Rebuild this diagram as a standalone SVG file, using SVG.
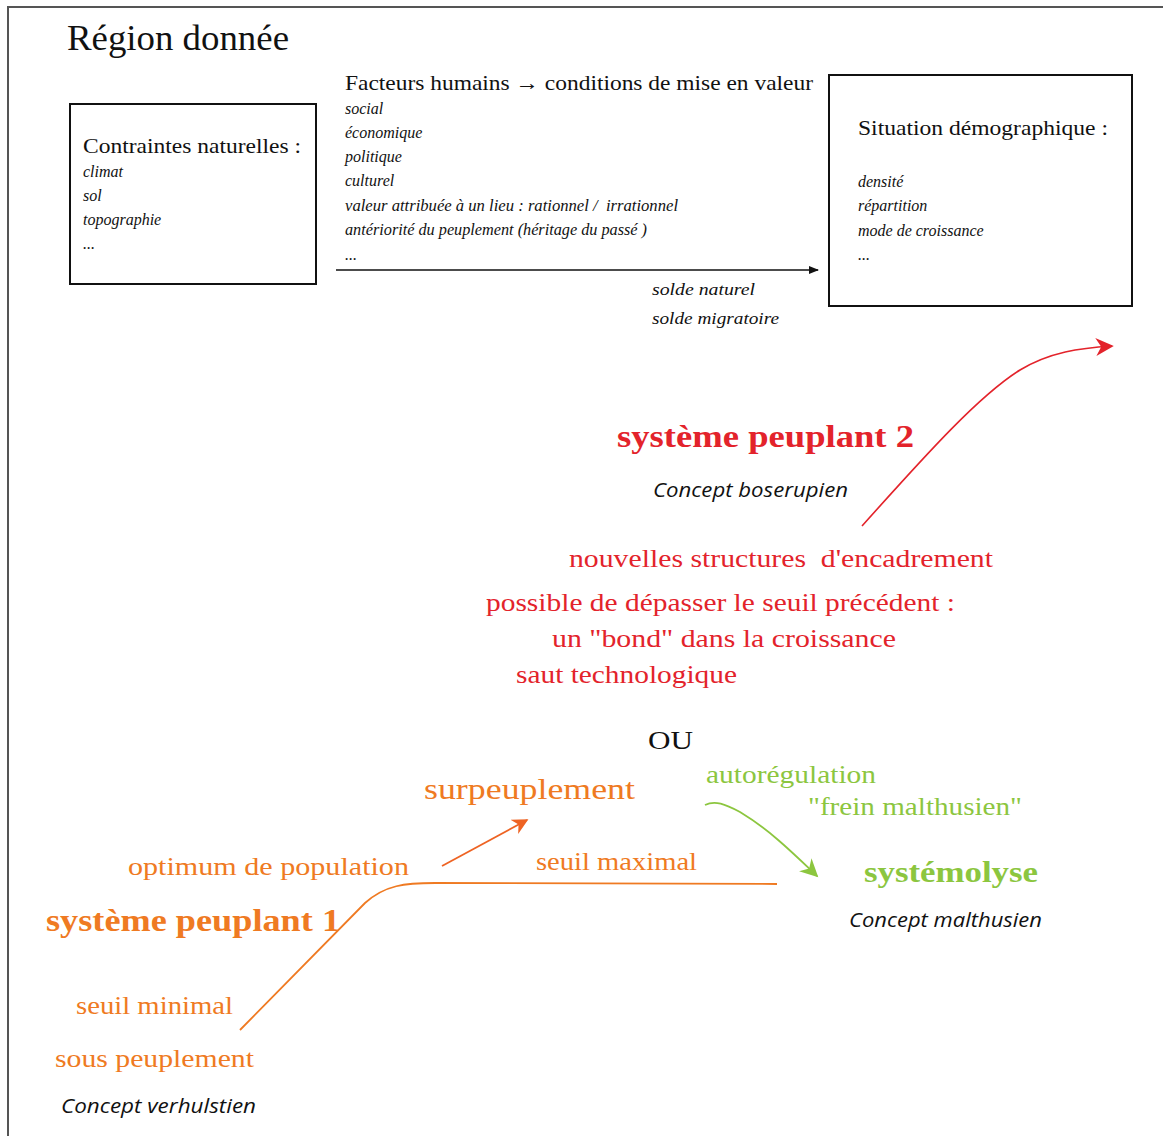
<svg xmlns="http://www.w3.org/2000/svg" width="1163" height="1136" viewBox="0 0 1163 1136">
<defs>
<style>
.s{font-family:"Liberation Serif","DejaVu Serif",serif;}
.i{font-family:"Liberation Serif","DejaVu Serif",serif;font-style:italic;font-size:16px;fill:#111;}
.c{font-family:"Open Sans","Noto Sans","DejaVu Sans",sans-serif;font-style:italic;font-size:20px;fill:#111;}
.box{fill:#fff;stroke:#111;stroke-width:2;}
.red{fill:#e3232b;}
.ora{fill:#ef7a22;}
.grn{fill:#8cc63f;}
</style>
<marker id="ab" viewBox="0 0 10 10" refX="9" refY="5" markerWidth="10" markerHeight="10" markerUnits="userSpaceOnUse" orient="auto"><path d="M0,1 L10,5 L0,9 Z" fill="#111"/></marker>
<marker id="ar" viewBox="0 0 10 10" refX="9" refY="5" markerWidth="20" markerHeight="18" markerUnits="userSpaceOnUse" orient="auto"><path d="M0,0 L10,5 L0,10 L3,5 Z" fill="#e3232b"/></marker>
<marker id="ao" viewBox="0 0 10 10" refX="9" refY="5" markerWidth="18" markerHeight="16" markerUnits="userSpaceOnUse" orient="auto"><path d="M0,0 L10,5 L0,10 L3,5 Z" fill="#ee6323"/></marker>
<marker id="ag" viewBox="0 0 10 10" refX="9" refY="5" markerWidth="20" markerHeight="18" markerUnits="userSpaceOnUse" orient="auto"><path d="M0,0 L10,5 L0,10 L3,5 Z" fill="#8cc63f"/></marker>
</defs>
<rect width="1163" height="1136" fill="#fff"/>
<path d="M8,1136 V7 H1163" fill="none" stroke="#555" stroke-width="2"/>

<g id="title"><text class="s" x="67" y="50" font-size="35" fill="#111" textLength="222" lengthAdjust="spacingAndGlyphs">Région donnée</text></g>

<g id="contraintes">
<rect class="box" x="70" y="104" width="246" height="180"/>
<text class="s" x="83" y="153" font-size="21" fill="#111" textLength="218" lengthAdjust="spacingAndGlyphs">Contraintes naturelles :</text>
<text class="i" x="83" y="177">climat</text>
<text class="i" x="83" y="201">sol</text>
<text class="i" x="83" y="225">topographie</text>
<text class="i" x="83" y="249">...</text>
</g>

<g id="facteurs">
<text class="s" x="345" y="90" font-size="21" fill="#111" textLength="468" lengthAdjust="spacingAndGlyphs">Facteurs humains → conditions de mise en valeur</text>
<text class="i" x="345" y="114">social</text>
<text class="i" x="345" y="138">économique</text>
<text class="i" x="345" y="162">politique</text>
<text class="i" x="345" y="186">culturel</text>
<text class="i" x="345" y="211" textLength="333" lengthAdjust="spacingAndGlyphs">valeur attribuée à un lieu : rationnel / &#160;irrationnel</text>
<text class="i" x="345" y="235" textLength="302" lengthAdjust="spacingAndGlyphs">antériorité du peuplement (héritage du passé )</text>
<text class="i" x="345" y="260">...</text>
<text class="i" x="652" y="295" font-size="20" textLength="103" lengthAdjust="spacingAndGlyphs">solde naturel</text>
<text class="i" x="652" y="324" font-size="20" textLength="127" lengthAdjust="spacingAndGlyphs">solde migratoire</text>
</g>

<g id="situation">
<rect class="box" x="829" y="75" width="303" height="231"/>
<text class="s" x="858" y="135" font-size="21" fill="#111" textLength="250" lengthAdjust="spacingAndGlyphs">Situation démographique :</text>
<text class="i" x="858" y="187">densité</text>
<text class="i" x="858" y="211">répartition</text>
<text class="i" x="858" y="236">mode de croissance</text>
<text class="i" x="858" y="260">...</text>
</g>

<g id="systeme2">
<text class="s red" x="617" y="447" font-size="31" font-weight="bold" textLength="297" lengthAdjust="spacingAndGlyphs">système peuplant 2</text>
<text class="c" x="653" y="497" textLength="195" lengthAdjust="spacingAndGlyphs">Concept boserupien</text>
<text class="s red" x="569" y="567" font-size="25" textLength="424" lengthAdjust="spacingAndGlyphs">nouvelles structures &#160;d'encadrement</text>
<text class="s red" x="486" y="611" font-size="25" textLength="469" lengthAdjust="spacingAndGlyphs">possible de dépasser le seuil précédent :</text>
<text class="s red" x="552" y="647" font-size="25" textLength="344" lengthAdjust="spacingAndGlyphs">un "bond" dans la croissance</text>
<text class="s red" x="516" y="683" font-size="25" textLength="221" lengthAdjust="spacingAndGlyphs">saut technologique</text>
</g>

<g id="ou"><text class="s" x="648" y="749" font-size="25" fill="#111" textLength="45" lengthAdjust="spacingAndGlyphs">OU</text></g>

<g id="systeme1">
<text class="s ora" x="424" y="799" font-size="30" textLength="211" lengthAdjust="spacingAndGlyphs">surpeuplement</text>
<text class="s ora" x="128" y="875" font-size="25" textLength="281" lengthAdjust="spacingAndGlyphs">optimum de population</text>
<text class="s ora" x="536" y="870" font-size="25" textLength="161" lengthAdjust="spacingAndGlyphs">seuil maximal</text>
<text class="s ora" x="46" y="931" font-size="31" font-weight="bold" textLength="294" lengthAdjust="spacingAndGlyphs">système peuplant 1</text>
<text class="s ora" x="76" y="1014" font-size="25" textLength="157" lengthAdjust="spacingAndGlyphs">seuil minimal</text>
<text class="s ora" x="55" y="1067" font-size="25" textLength="199" lengthAdjust="spacingAndGlyphs">sous peuplement</text>
<text class="c" x="61" y="1113" textLength="195" lengthAdjust="spacingAndGlyphs">Concept verhulstien</text>
</g>

<g id="systemolyse">
<text class="s grn" x="706" y="783" font-size="25" textLength="170" lengthAdjust="spacingAndGlyphs">autorégulation</text>
<text class="s grn" x="808" y="815" font-size="25" textLength="214" lengthAdjust="spacingAndGlyphs">"frein malthusien"</text>
<text class="s grn" x="864" y="882" font-size="29" font-weight="bold" textLength="174" lengthAdjust="spacingAndGlyphs">systémolyse</text>
<text class="c" x="849" y="927" textLength="193" lengthAdjust="spacingAndGlyphs">Concept malthusien</text>
</g>

<g id="connectors" fill="none">
<path d="M336,270 H818" stroke="#111" stroke-width="1.5" marker-end="url(#ab)"/>
<path d="M862,526 C930,450 980,395 1020,370 C1050,352 1080,348 1112,346" stroke="#e3232b" stroke-width="1.6" marker-end="url(#ar)"/>
<path d="M442,866 L527,820" stroke="#ee6323" stroke-width="1.8" marker-end="url(#ao)"/>
<path d="M240,1030 L365,903 C385,885 405,883 435,883 L777,884" stroke="#ef7a22" stroke-width="1.8"/>
<path d="M705,805 C715,800 725,804 740,812 C770,830 795,855 817,876" stroke="#8cc63f" stroke-width="1.8" marker-end="url(#ag)"/>
</g>
</svg>
